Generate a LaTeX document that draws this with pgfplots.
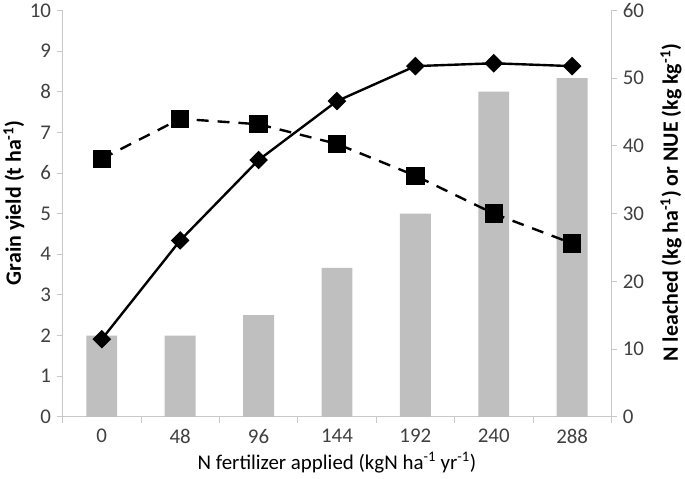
\documentclass[border=0pt]{standalone}
\usepackage{fontspec}
\setmainfont{Carlito}
\usepackage{pgfplots}
\pgfplotsset{compat=1.18}
\definecolor{axgrey}{HTML}{C8C8C8}
\definecolor{bargrey}{HTML}{BFBFBF}
\definecolor{ticktext}{HTML}{404040}

% N rate index, grain yield (t/ha), N leached (kg/ha), NUE (kg/kg)
\pgfplotstableread{
idx yield leached nue
0   1.91  12  38.1
1   4.34  12  44.0
2   6.32  15  43.2
3   7.77  22  40.3
4   8.63  30  35.6
5   8.70  48  30.0
6   8.63  50  25.6
}\datatable

\begin{document}
\begin{tikzpicture}
\pgfplotsset{
  every axis/.append style={
    scale only axis, width=551pt, height=408pt,
    at={(0,0)}, anchor=south west,
    xmin=-0.5, xmax=6.5,
    axis line style={axgrey, line width=0.9pt},
    tick style={axgrey, line width=0.9pt},
    tick align=outside,
    major tick length=6pt,
    minor tick length=6pt,
    /pgf/number format/assume math mode=true,
    tick label style={font=\fontsize{21}{24}\selectfont, text=ticktext},
    label style={font=\fontsize{22}{26}\selectfont\bfseries, text=black},
  }
}
% right scale: bars and NUE
\begin{axis}[
  axis x line*=bottom,
  axis y line*=right,
  ymin=0, ymax=60,
  ytick={0,10,...,60},
  xtick={0,...,6},
  xticklabels={0,48,96,144,192,240,288},
  major x tick style={draw=none},
  minor xtick={-0.5,0.5,...,6.5},
  xticklabel style={yshift=-3pt},
  yticklabel style={xshift=2pt},
  xlabel={N fertilizer applied (kgN ha\textsuperscript{-1} yr\textsuperscript{-1})},
  xlabel style={at={([yshift=-46pt]axis description cs:0.5,0)}, anchor=center,
    font=\fontsize{21}{24}\selectfont},
  ylabel={N leached (kg ha\textsuperscript{-1}) or NUE (kg kg\textsuperscript{-1})},
  ylabel style={at={([xshift=60pt]axis description cs:1,0.527)}, anchor=center},
]
\addplot[ybar, bar width=31pt, fill=bargrey, draw=none] table[x=idx, y=leached] {\datatable};
\addplot[black, line width=2.4pt, dash pattern=on 12pt off 9pt,
  mark=square*, mark size=8pt, mark options={solid}] table[x=idx, y=nue] {\datatable};
\end{axis}
% left scale: grain yield
\begin{axis}[
  axis x line=none,
  axis y line*=left,
  ymin=0, ymax=10,
  ytick={0,1,...,10},
  yticklabel style={xshift=-2pt},
  ylabel={Grain yield (t ha\textsuperscript{-1})},
  ylabel style={at={([xshift=-49pt]axis description cs:0,0.527)}, anchor=center},
]
\addplot[black, line width=2.4pt, mark=square*, mark size=5.4pt,
  mark options={rotate=45}] table[x=idx, y=yield] {\datatable};
\end{axis}
\path (-62pt,-62pt) rectangle (623pt,417pt);
\end{tikzpicture}
\end{document}
